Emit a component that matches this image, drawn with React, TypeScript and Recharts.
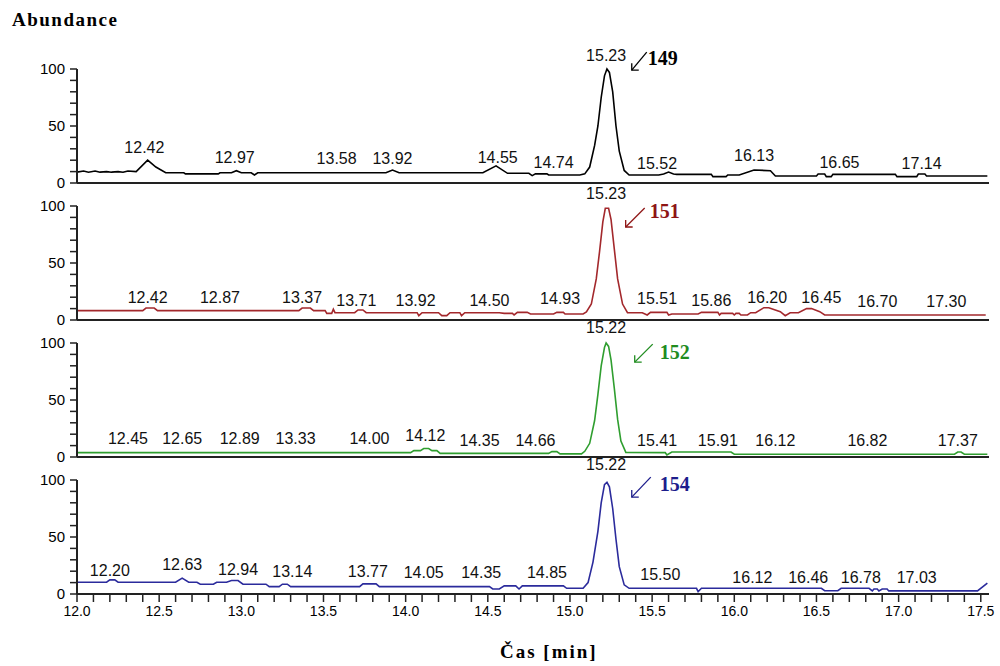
import React from 'react';
import { LineChart, Line, XAxis, YAxis, ReferenceDot } from 'recharts';

type Pt = [number, number];
type Lbl = [number, number, string];

// ---------- trace data: [time (min), abundance (%)] ----------
const trace149: Pt[] = [
  [12.00, 9.5], [12.04, 10.5], [12.07, 9.5], [12.11, 10.5], [12.14, 9.5], [12.18, 10], [12.21, 9.5], [12.25, 10],
  [12.28, 9.5], [12.31, 10.5], [12.36, 10], [12.43, 20], [12.48, 14], [12.54, 9], [12.65, 9], [12.66, 8], [12.86, 8],
  [12.87, 9], [12.94, 9], [12.97, 10.8], [13.00, 9], [13.06, 9], [13.08, 7], [13.10, 9], [13.88, 9], [13.92, 11.4],
  [13.96, 9], [14.47, 9], [14.55, 15], [14.62, 8.5], [14.75, 8.5], [14.77, 6.5], [14.79, 8], [14.86, 8], [14.87, 7],
  [15.06, 7], [15.09, 8], [15.12, 14], [15.15, 33], [15.17, 50], [15.19, 75], [15.21, 94], [15.225, 100], [15.24, 97],
  [15.26, 80], [15.28, 50], [15.30, 28], [15.33, 11], [15.36, 7], [15.54, 7], [15.57, 7.9], [15.60, 9.6], [15.63, 7.9],
  [15.65, 7.6], [15.86, 7.6], [15.87, 5.6], [15.95, 5.6], [15.96, 7], [16.03, 7], [16.12, 11.4], [16.22, 10.8],
  [16.25, 6.2], [16.50, 6.2], [16.51, 7.9], [16.55, 7.9], [16.56, 5.6], [16.59, 5.6], [16.60, 7.6], [16.98, 7.6],
  [16.99, 5.6], [17.11, 5.6], [17.12, 7.9], [17.16, 7.9], [17.17, 6.2], [17.54, 6.2],
];

const trace151: Pt[] = [
  [12.00, 8.2], [12.40, 8.2], [12.42, 10.5], [12.47, 10.5], [12.49, 8.2], [13.35, 8.2], [13.37, 10.5], [13.42, 10.5],
  [13.44, 8.2], [13.51, 8.2], [13.52, 5.8], [13.55, 5.8], [13.56, 9.4], [13.57, 6.4], [13.69, 6.4], [13.71, 8.8],
  [13.74, 8.8], [13.76, 6.4], [14.07, 6.4], [14.08, 3.8], [14.10, 6.4], [14.20, 6.4], [14.22, 3.8], [14.25, 3.8],
  [14.27, 6.4], [14.33, 6.4], [14.34, 3.8], [14.36, 6.4], [14.57, 6.4], [14.60, 5.8], [14.65, 5.8], [14.66, 4.4],
  [14.68, 6.7], [14.74, 6.7], [14.76, 5.3], [14.90, 5.3], [14.92, 6.7], [14.96, 6.7], [14.97, 5.3], [15.08, 5.3],
  [15.10, 7], [15.13, 14], [15.16, 36], [15.18, 60], [15.20, 86], [15.215, 98], [15.235, 98], [15.25, 88],
  [15.27, 62], [15.29, 36], [15.32, 14], [15.35, 6.4], [15.44, 6.4], [15.47, 4.4], [15.49, 6.7], [15.59, 6.7],
  [15.60, 4.4], [15.62, 5.3], [15.78, 5.3], [15.80, 6.7], [15.90, 6.7], [15.91, 4.4], [15.92, 5.8], [15.99, 5.8],
  [16.00, 4.4], [16.01, 5.8], [16.03, 5.8], [16.04, 4.4], [16.08, 4.4], [16.10, 6.4], [16.13, 6.4], [16.18, 10.8],
  [16.21, 10.8], [16.28, 7.3], [16.31, 3.8], [16.34, 6.4], [16.39, 6.4], [16.44, 10], [16.47, 10], [16.52, 7.3],
  [16.55, 4.4], [17.53, 4.4],
];

const trace152: Pt[] = [
  [12.00, 3.8], [14.03, 3.8], [14.05, 5.6], [14.09, 5.6], [14.11, 7.4], [14.14, 7.4], [14.16, 5.6], [14.19, 5.6],
  [14.21, 3.2], [14.87, 3.2], [14.89, 4.7], [14.92, 4.7], [14.94, 2.7], [15.07, 2.7], [15.09, 5], [15.12, 12],
  [15.15, 32], [15.17, 55], [15.19, 80], [15.21, 96], [15.22, 100], [15.235, 97], [15.25, 85], [15.27, 60],
  [15.29, 33], [15.31, 14], [15.34, 4], [15.58, 3.8], [15.59, 1.8], [15.62, 4.4], [15.98, 4.4], [16.00, 2.4],
  [17.34, 2.4], [17.36, 4.4], [17.38, 4.4], [17.40, 2.4], [17.54, 2.4],
];

const trace154: Pt[] = [
  [12.00, 10.3], [12.18, 10.3], [12.20, 12.4], [12.23, 12.4], [12.25, 10.3], [12.60, 10.3], [12.64, 13.9],
  [12.68, 10.3], [12.73, 10.3], [12.75, 8.6], [12.83, 8.6], [12.85, 10.3], [12.91, 10.3], [12.94, 11.8],
  [12.98, 11.8], [13.01, 8.6], [13.15, 8.6], [13.17, 6.5], [13.23, 6.5], [13.25, 8.6], [13.28, 8.6], [13.30, 6.5],
  [13.72, 6.5], [13.74, 8.9], [13.82, 8.9], [13.84, 6.5], [14.51, 6.5], [14.53, 4.4], [14.57, 4.4], [14.60, 7.1],
  [14.67, 7.1], [14.69, 4.4], [14.71, 7.1], [14.96, 7.1], [14.98, 5], [15.08, 5], [15.11, 10], [15.14, 28],
  [15.17, 55], [15.19, 80], [15.21, 96], [15.225, 98], [15.24, 94], [15.26, 75], [15.28, 48], [15.30, 24],
  [15.33, 8], [15.36, 5], [15.77, 5], [15.78, 2], [15.80, 5], [16.53, 5], [16.55, 2.9], [16.63, 2.9], [16.65, 5],
  [16.82, 5], [16.84, 2.7], [16.85, 4.4], [16.87, 4.4], [16.88, 2.7], [16.90, 4.4], [16.93, 4.4], [16.94, 2.7],
  [17.48, 2.7], [17.54, 9.5],
];

// ---------- peak labels: [time, abundance, text] ----------
const labels149: Lbl[] = [
  [12.41, 31.6, '12.42'], [12.96, 22.8, '12.97'], [13.58, 21.9, '13.58'], [13.92, 21.9, '13.92'],
  [14.56, 22.8, '14.55'], [14.90, 18.4, '14.74'], [15.22, 112, '15.23'], [15.53, 17.5, '15.52'],
  [16.12, 24.6, '16.13'], [16.64, 18.4, '16.65'], [17.14, 17.5, '17.14'],
];
const labels151: Lbl[] = [
  [12.43, 20.2, '12.42'], [12.87, 20.2, '12.87'], [13.37, 20.2, '13.37'], [13.70, 17.5, '13.71'],
  [14.06, 17.5, '13.92'], [14.51, 17.5, '14.50'], [14.94, 19.3, '14.93'], [15.22, 111, '15.23'],
  [15.53, 19.3, '15.51'], [15.86, 17.5, '15.86'], [16.20, 20.2, '16.20'], [16.53, 20.2, '16.45'],
  [16.87, 16.7, '16.70'], [17.29, 16.7, '17.30'],
];
const labels152: Lbl[] = [
  [12.31, 15.9, '12.45'], [12.64, 15.9, '12.65'], [12.99, 15.9, '12.89'], [13.33, 15.9, '13.33'],
  [13.78, 15.9, '14.00'], [14.12, 18.6, '14.12'], [14.45, 15, '14.35'], [14.79, 14.2, '14.66'],
  [15.22, 114, '15.22'], [15.53, 15, '15.41'], [15.90, 14.2, '15.91'], [16.25, 14.2, '16.12'],
  [16.81, 14.2, '16.82'], [17.36, 14.2, '17.37'],
];
const labels154: Lbl[] = [
  [12.20, 20.4, '12.20'], [12.64, 25.7, '12.63'], [12.98, 21.2, '12.94'], [13.31, 19.5, '13.14'],
  [13.77, 19.5, '13.77'], [14.11, 18.6, '14.05'], [14.46, 18.6, '14.35'], [14.86, 18.6, '14.85'],
  [15.22, 114, '15.22'], [15.55, 16.8, '15.50'], [16.11, 15, '16.12'], [16.45, 15, '16.46'],
  [16.77, 15, '16.78'], [17.11, 15, '17.03'],
];

// ---------- axes ----------
const yTicks = [0, 10, 20, 30, 40, 50, 60, 70, 80, 90, 100];
const yTickLabels = [0, 50, 100];
const xTicks = [
  12.0, 12.1, 12.2, 12.3, 12.4, 12.5, 12.6, 12.7, 12.8, 12.9,
  13.0, 13.1, 13.2, 13.3, 13.4, 13.5, 13.6, 13.7, 13.8, 13.9,
  14.0, 14.1, 14.2, 14.3, 14.4, 14.5, 14.6, 14.7, 14.8, 14.9,
  15.0, 15.1, 15.2, 15.3, 15.4, 15.5, 15.6, 15.7, 15.8, 15.9,
  16.0, 16.1, 16.2, 16.3, 16.4, 16.5, 16.6, 16.7, 16.8, 16.9,
  17.0, 17.1, 17.2, 17.3, 17.4, 17.5,
];
const xTickLabels = ['12.0', '12.5', '13.0', '13.5', '14.0', '14.5', '15.0', '15.5', '16.0', '16.5', '17.0', '17.5'];

const SANS = '"Liberation Sans", Arial, sans-serif';
const SERIF = '"Liberation Serif", "Times New Roman", serif';
const TOPM = 30;
const PLOT_H = 114;

type PanelCfg = {
  ion: string;
  trace: Pt[];
  labels: Lbl[];
  color: string;
  textColor: string;
  plotTop: number;
  arrow: { t: number; v: number; dx: number; dy: number; tx: number; ty: number };
};

const panels: PanelCfg[] = [
  { ion: '149', trace: trace149, labels: labels149, color: '#000000', textColor: '#000000', plotTop: 69,
    arrow: { t: 15.376, v: 99, dx: 15, dy: -18, tx: 16, ty: -12 } },
  { ion: '151', trace: trace151, labels: labels151, color: '#a3282c', textColor: '#8e1414', plotTop: 206,
    arrow: { t: 15.339, v: 81.6, dx: 19, dy: -19, tx: 24, ty: -16 } },
  { ion: '152', trace: trace152, labels: labels152, color: '#2f9e2f', textColor: '#1f8c1f', plotTop: 343,
    arrow: { t: 15.394, v: 83.2, dx: 18, dy: -18, tx: 25, ty: -10 } },
  { ion: '154', trace: trace154, labels: labels154, color: '#2b2b9c', textColor: '#1d1d8c', plotTop: 480,
    arrow: { t: 15.376, v: 85, dx: 19, dy: -20, tx: 28, ty: -13 } },
];

const fmtX = (v: number) => {
  const s = v.toFixed(1);
  return xTickLabels.includes(s) ? s : '';
};
const fmtY = (v: number) => (yTickLabels.includes(v) ? String(v) : '');

function Panel({ cfg, showX }: { cfg: PanelCfg; showX: boolean }) {
  const data = cfg.trace.map(([t, a]) => ({ t, a }));
  const xh = showX ? 40 : 12;
  const h = TOPM + PLOT_H + xh;
  const a = cfg.arrow;
  return (
    <div style={{ position: 'absolute', left: 0, top: cfg.plotTop - TOPM }}>
      <LineChart width={1000} height={h} data={data} margin={{ top: TOPM, right: 11, bottom: 0, left: 0 }}>
        <XAxis
          dataKey="t"
          type="number"
          domain={[12, 17.55]}
          allowDataOverflow
          ticks={xTicks}
          interval={0}
          height={xh}
          axisLine={{ stroke: '#222', strokeWidth: 2 }}
          tickLine={showX ? { stroke: '#222', strokeWidth: 1.5 } : false}
          tick={showX ? { fontSize: 14, fill: '#000', fontFamily: SANS } : false}
          tickFormatter={fmtX}
          tickSize={8}
          tickMargin={4}
        />
        <YAxis
          type="number"
          domain={[0, 100]}
          ticks={yTicks}
          interval={0}
          width={77}
          axisLine={{ stroke: '#222', strokeWidth: 2 }}
          tickLine={{ stroke: '#222', strokeWidth: 1.5 }}
          tick={{ fontSize: 15, fill: '#000', fontFamily: SANS }}
          tickFormatter={fmtY}
          tickSize={7}
          tickMargin={5}
        />
        <Line
          dataKey="a"
          type="linear"
          stroke={cfg.color}
          strokeWidth={1.6}
          dot={false}
          activeDot={false}
          isAnimationActive={false}
        />
        {cfg.labels.map(([t, v, text], i) => (
          <ReferenceDot
            key={i}
            x={t}
            y={v}
            r={0}
            ifOverflow="visible"
            shape={(p: any) => (
              <text x={p.cx} y={p.cy} dy="0.35em" textAnchor="middle" fontSize={16} fontFamily={SANS} fill="#111">
                {text}
              </text>
            )}
          />
        ))}
        <ReferenceDot
          x={a.t}
          y={a.v}
          r={0}
          ifOverflow="visible"
          shape={(p: any) => (
            <g>
              <line x1={p.cx} y1={p.cy} x2={p.cx + a.dx} y2={p.cy + a.dy} stroke={cfg.textColor} strokeWidth={1.3} />
              <polyline
                points={`${p.cx},${p.cy - 7} ${p.cx},${p.cy} ${p.cx + 7},${p.cy}`}
                fill="none"
                stroke={cfg.textColor}
                strokeWidth={1.3}
              />
              <text
                x={p.cx + a.tx}
                y={p.cy + a.ty}
                dy="0.35em"
                fontSize={20}
                fontWeight="bold"
                fontFamily={SERIF}
                fill={cfg.textColor}
              >
                {cfg.ion}
              </text>
            </g>
          )}
        />
      </LineChart>
    </div>
  );
}

export default function App() {
  return (
    <div style={{ position: 'absolute', left: 0, top: 0, width: 1000, height: 666, background: '#fff', overflow: 'hidden' }}>
      <div
        style={{
          position: 'absolute', left: 12, top: 9, fontFamily: SERIF, fontWeight: 'bold', fontSize: 19,
          letterSpacing: 1.5, color: '#000', lineHeight: '22px',
        }}
      >
        Abundance
      </div>
      {panels.map((cfg, i) => (
        <Panel key={cfg.ion} cfg={cfg} showX={i === panels.length - 1} />
      ))}
      <div
        style={{
          position: 'absolute', left: 500, top: 640, fontFamily: SERIF, fontWeight: 'bold', fontSize: 19,
          letterSpacing: 2, color: '#000', lineHeight: '24px',
        }}
      >
        Čas [min]
      </div>
    </div>
  );
}
